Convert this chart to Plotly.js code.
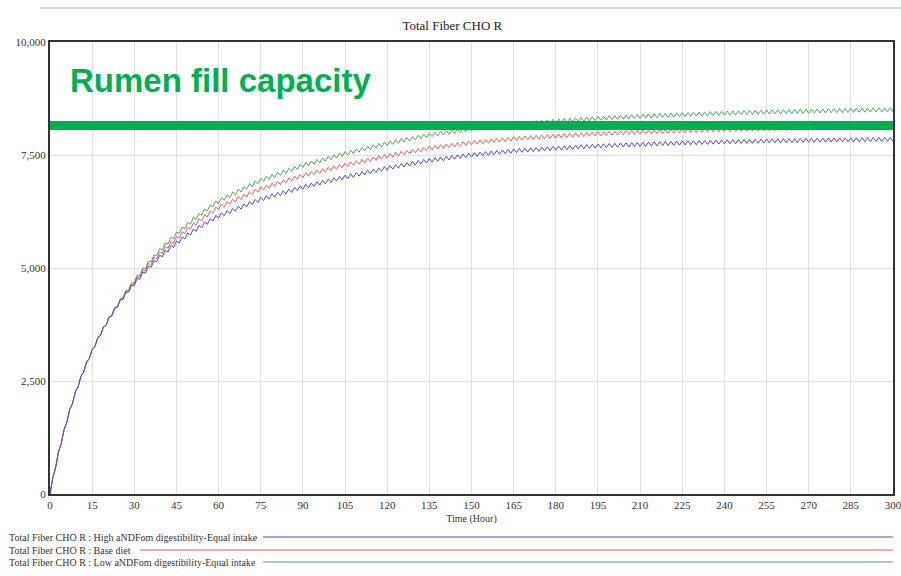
<!DOCTYPE html>
<html>
<head>
<meta charset="utf-8">
<script src="https://cdn.plot.ly/plotly-3.0.1.min.js"></script>
<style>html,body{margin:0;padding:0;background:#fff;}#chart{width:901px;height:576px;}</style>
</head>
<body>
<div id="chart"></div>
<script>
// ---- data ----
var chartTitle = "Total Fiber CHO R";
var xAxisTitle = "Time (Hour)";
var seriesNames = [
  "Total Fiber CHO R : High aNDFom digestibility-Equal intake",
  "Total Fiber CHO R : Base diet",
  "Total Fiber CHO R : Low aNDFom digestibility-Equal intake"
];
var seriesColors = ["#4b4bd8", "#ef5b5b", "#4ea65c"];
var rumenLabel = "Rumen fill capacity";
var rumenFillCapacity = 8150;
var capacityHours = [0, 300];
var xTicks = [0,15,30,45,60,75,90,105,120,135,150,165,180,195,210,225,240,255,270,285,300];
var yTicks = [0,2500,5000,7500,10000];
var hours = Array.from({length: 301}, function(_, i){ return i; });

var highDigestibility = [
0,355,581,927,1115,1427,1584,1867,1998,2258,
2367,2606,2697,2919,2994,3202,3263,3459,3509,3694,
3734,3909,3940,4107,4130,4289,4305,4457,4467,4613,
4606,4769,4750,4910,4887,5041,5014,5166,5134,5282,
5248,5392,5355,5497,5456,5595,5552,5688,5643,5777,
5729,5861,5812,5941,5890,6019,5965,6092,6038,6162,
6106,6221,6155,6270,6204,6319,6254,6368,6303,6417,
6352,6467,6401,6516,6450,6565,6493,6601,6529,6637,
6565,6673,6601,6709,6637,6745,6673,6781,6709,6817,
6745,6850,6774,6879,6804,6908,6833,6938,6862,6967,
6892,6996,6921,7026,6950,7055,6978,7082,7005,7108,
7032,7135,7058,7162,7085,7188,7112,7215,7138,7242,
7165,7266,7188,7289,7210,7312,7233,7334,7256,7357,
7278,7380,7301,7402,7324,7425,7343,7441,7359,7457,
7375,7473,7391,7489,7407,7505,7423,7521,7439,7537,
7455,7551,7467,7563,7479,7575,7491,7587,7503,7599,
7515,7611,7527,7623,7539,7635,7549,7643,7557,7651,
7565,7659,7573,7667,7581,7675,7589,7683,7597,7691,
7605,7698,7612,7705,7618,7712,7625,7718,7632,7725,
7638,7732,7645,7738,7652,7745,7657,7750,7662,7754,
7667,7759,7671,7764,7676,7768,7681,7773,7685,7778,
7690,7782,7694,7786,7698,7790,7702,7794,7706,7798,
7710,7802,7714,7806,7718,7810,7722,7813,7725,7817,
7728,7820,7732,7823,7735,7827,7738,7830,7742,7833,
7745,7836,7748,7839,7750,7842,7753,7844,7756,7847,
7758,7850,7761,7852,7764,7855,7766,7857,7768,7859,
7770,7861,7772,7863,7774,7865,7776,7867,7778,7869,
7780,7871,7782,7872,7783,7874,7785,7876,7786,7877,
7788,7879,7790,7880,7791,7882,7793,7883,7794,7885,
7795,7886,7797,7887,7798,7889,7799,7890,7801,7891,
7802];

var baseDiet = [
0,355,581,927,1115,1427,1584,1867,1998,2258,
2367,2606,2697,2919,2994,3202,3263,3459,3509,3694,
3734,3912,3946,4116,4142,4304,4324,4480,4494,4644,
4641,4808,4794,4958,4939,5098,5075,5231,5204,5356,
5326,5475,5442,5588,5552,5695,5658,5800,5761,5901,
5859,5997,5954,6089,6044,6179,6131,6264,6216,6346,
6296,6414,6350,6468,6405,6522,6460,6577,6514,6631,
6569,6686,6623,6741,6677,6795,6725,6834,6764,6874,
6803,6913,6843,6952,6882,6992,6921,7031,6961,7070,
7000,7106,7030,7136,7062,7166,7092,7198,7122,7228,
7154,7258,7184,7290,7214,7320,7243,7348,7271,7374,
7299,7402,7325,7430,7353,7456,7381,7484,7407,7512,
7435,7536,7458,7559,7480,7582,7503,7604,7526,7627,
7548,7650,7571,7672,7594,7695,7613,7711,7629,7727,
7645,7743,7661,7759,7677,7775,7693,7791,7709,7807,
7725,7821,7737,7833,7749,7845,7761,7857,7773,7869,
7785,7881,7797,7893,7809,7905,7819,7913,7827,7921,
7835,7929,7843,7937,7851,7945,7859,7953,7867,7961,
7875,7968,7882,7975,7888,7982,7895,7988,7902,7995,
7908,8002,7915,8008,7922,8015,7927,8020,7932,8024,
7937,8029,7941,8034,7946,8038,7951,8043,7955,8048,
7960,8052,7964,8056,7968,8060,7972,8064,7976,8068,
7980,8072,7984,8076,7988,8080,7992,8083,7995,8087,
7998,8090,8002,8093,8005,8097,8008,8100,8012,8103,
8015,8106,8018,8109,8020,8112,8023,8114,8026,8117,
8028,8120,8031,8122,8034,8125,8036,8127,8038,8129,
8040,8131,8042,8133,8044,8135,8046,8137,8048,8139,
8050,8141,8052,8142,8053,8144,8055,8146,8056,8147,
8058,8149,8060,8150,8061,8152,8063,8153,8064,8155,
8065,8156,8067,8157,8068,8159,8069,8160,8071,8161,
8072];

var lowDigestibility = [
0,355,581,927,1115,1427,1584,1867,1998,2258,
2367,2606,2697,2919,2994,3202,3263,3459,3509,3694,
3734,3915,3952,4125,4154,4319,4342,4501,4518,4671,
4671,4843,4833,5002,4988,5151,5133,5294,5271,5428,
5403,5556,5528,5679,5647,5795,5761,5905,5869,6012,
5972,6113,6073,6210,6168,6306,6260,6396,6351,6483,
6436,6557,6497,6618,6558,6679,6620,6740,6681,6801,
6742,6863,6803,6924,6864,6985,6917,7029,6961,7073,
7005,7117,7049,7161,7093,7205,7137,7249,7181,7293,
7225,7333,7259,7367,7295,7401,7329,7437,7363,7471,
7399,7505,7433,7541,7467,7575,7500,7605,7530,7635,
7560,7665,7590,7695,7620,7725,7650,7755,7680,7785,
7710,7812,7735,7837,7759,7862,7784,7886,7809,7911,
7833,7936,7858,7960,7883,7985,7904,8003,7922,8021,
7940,8039,7958,8057,7976,8075,7994,8093,8012,8111,
8030,8127,8044,8141,8058,8155,8072,8169,8086,8183,
8100,8197,8114,8211,8128,8225,8140,8234,8149,8244,
8158,8253,8168,8262,8177,8272,8186,8281,8196,8290,
8205,8299,8213,8307,8221,8315,8229,8323,8237,8331,
8245,8339,8253,8347,8261,8355,8268,8361,8274,8367,
8280,8373,8286,8379,8292,8385,8298,8391,8304,8397,
8310,8403,8315,8408,8320,8413,8325,8418,8330,8423,
8335,8428,8340,8433,8345,8438,8350,8442,8354,8447,
8358,8450,8363,8454,8367,8459,8371,8463,8376,8467,
8380,8471,8384,8475,8386,8479,8390,8481,8394,8485,
8396,8489,8400,8491,8404,8495,8406,8498,8409,8500,
8412,8503,8414,8506,8417,8508,8420,8511,8422,8514,
8425,8516,8428,8518,8429,8521,8432,8523,8434,8525,
8436,8528,8439,8529,8441,8532,8443,8534,8445,8536,
8447,8538,8449,8540,8451,8542,8453,8544,8455,8546,
8457];

// ---- layout helpers (pixel -> paper) ----
var W = 901, H = 576, ML = 50, MR = 8, MT = 42, MB = 82;
var PW = W - ML - MR, PH = H - MT - MB;
function px(x){ return (x - ML) / PW; }
function py(y){ return (H - MB - y) / PH; }

var serif = "Liberation Serif, Times New Roman, serif";
var allSeries = [highDigestibility, baseDiet, lowDigestibility];

var traces = [];
[2,1,0].forEach(function(i){
  traces.push({
    x: hours, y: allSeries[i], type: "scatter", mode: "lines",
    name: seriesNames[i], line: {color: seriesColors[i], width: 1},
    hoverinfo: "skip", showlegend: false
  });
});
traces.push({
  x: capacityHours, y: [rumenFillCapacity, rumenFillCapacity],
  type: "scatter", mode: "lines", name: rumenLabel,
  line: {color: "#00b050", width: 9}, hoverinfo: "skip", showlegend: false
});

var legendRowsY = [537, 550, 562];
var legendLineStart = [263, 140, 263];
var annotations = [{
  xref: "paper", yref: "paper", x: px(68), y: py(81),
  xanchor: "left", yanchor: "middle", showarrow: false,
  text: "<b>" + rumenLabel + "</b>",
  font: {family: "Liberation Sans, Arial, sans-serif", size: 33, color: "#00b050"}
}];
var shapes = [{
  type: "line", xref: "paper", yref: "paper",
  x0: px(40), x1: px(901), y0: py(8), y1: py(8),
  line: {color: "#d3dae8", width: 2}
}];
seriesNames.forEach(function(n, i){
  annotations.push({
    xref: "paper", yref: "paper", x: px(7), y: py(legendRowsY[i]),
    xanchor: "left", yanchor: "middle", showarrow: false, text: n,
    font: {family: serif, size: 10, color: "#333"}
  });
  shapes.push({
    type: "line", xref: "paper", yref: "paper",
    x0: px(legendLineStart[i]), x1: px(893), y0: py(legendRowsY[i]), y1: py(legendRowsY[i]),
    line: {color: seriesColors[i], width: 1.2}
  });
});

var layout = {
  width: W, height: H,
  margin: {l: ML, r: MR, t: MT, b: MB, pad: 0},
  paper_bgcolor: "#ffffff", plot_bgcolor: "#ffffff",
  showlegend: false,
  title: {text: chartTitle, x: 0.502, xanchor: "center", y: 1 - 25/H, yanchor: "middle",
          font: {family: serif, size: 13, color: "#222"}},
  xaxis: {
    range: [0, 300], tickvals: xTicks, ticktext: xTicks.map(String),
    showgrid: true, gridcolor: "#e0e0e0", gridwidth: 1, zeroline: false,
    showline: true, mirror: true, linecolor: "#333333", linewidth: 2,
    ticks: "", ticklabeloverflow: "allow",
    tickfont: {family: serif, size: 11, color: "#333"},
    title: {text: xAxisTitle, standoff: 5, font: {family: serif, size: 10, color: "#333"}},
    fixedrange: true
  },
  yaxis: {
    range: [0, 10000], tickvals: yTicks, tickformat: ",",
    showgrid: true, gridcolor: "#e0e0e0", gridwidth: 1, zeroline: false,
    showline: true, mirror: true, linecolor: "#333333", linewidth: 2,
    ticks: "", tickfont: {family: serif, size: 11, color: "#333"},
    fixedrange: true
  },
  annotations: annotations,
  shapes: shapes
};

Plotly.newPlot("chart", traces, layout, {staticPlot: true, displayModeBar: false});
</script>
</body>
</html>
